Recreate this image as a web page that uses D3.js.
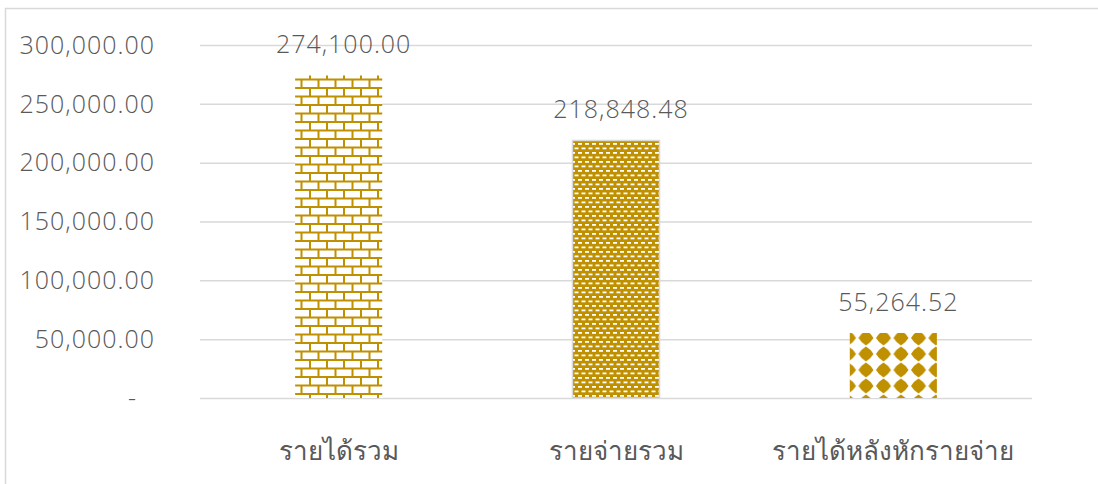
<!DOCTYPE html>
<html>
<head>
<meta charset="utf-8">
<style>
  body { margin: 0; background: #fff; }
  text { font-family: "Open Sans", "Noto Sans", sans-serif; font-weight: 300; fill: #595959; }
  .num { letter-spacing: 1px; }
</style>
<script src="https://cdn.jsdelivr.net/npm/d3@7"></script>
</head>
<body>
<svg id="chart" width="1098" height="484"></svg>
<script>
// data
var categories = ["รายได้รวม", "รายจ่ายรวม", "รายได้หลังหักรายจ่าย"];
var values = [274100.00, 218848.48, 55264.52];
var patterns = ["brick", "dash", "sphere"];
var yTicks = [0, 50000, 100000, 150000, 200000, 250000, 300000];

var svg = d3.select("#chart");
var gold = "#bf9000";

// chart frame
svg.append("rect")
  .attr("x", 5.5).attr("y", 8.5)
  .attr("width", 1110).attr("height", 500)
  .attr("fill", "none").attr("stroke", "#d9d9d9").attr("stroke-width", 1.5);

var defs = svg.append("defs");

// brick pattern
var pb = defs.append("pattern").attr("id", "brick")
  .attr("patternUnits", "userSpaceOnUse")
  .attr("width", 17).attr("height", 17)
  .attr("x", 296).attr("y", 76);
pb.append("rect").attr("width", 17).attr("height", 17).attr("fill", "#fff");
pb.append("path")
  .attr("d", "M0,1 H17 M0,9.5 H17 M1,1 V9.5 M9.5,9.5 V17")
  .attr("stroke", gold).attr("stroke-width", 2).attr("fill", "none");

// small dashes on gold
var pd = defs.append("pattern").attr("id", "dash")
  .attr("patternUnits", "userSpaceOnUse")
  .attr("width", 7).attr("height", 9)
  .attr("x", 573).attr("y", 141);
pd.append("rect").attr("width", 7).attr("height", 9).attr("fill", gold);
pd.append("rect").attr("x", 1).attr("y", 2).attr("width", 4).attr("height", 1.8).attr("fill", "#fff");
pd.append("rect").attr("x", 4.5).attr("y", 6.5).attr("width", 4).attr("height", 1.8).attr("fill", "#fff");
pd.append("rect").attr("x", -2.5).attr("y", 6.5).attr("width", 4).attr("height", 1.8).attr("fill", "#fff");

// rounded diamonds
var ps = defs.append("pattern").attr("id", "sphere")
  .attr("patternUnits", "userSpaceOnUse")
  .attr("width", 17.5).attr("height", 16)
  .attr("x", 850).attr("y", 333);
ps.append("rect").attr("width", 17.5).attr("height", 16).attr("fill", "#fff");
ps.append("path")
  .attr("d", "M8.5,0.5 Q13,3 16,8 Q13,13 8.5,15.5 Q4,13 1,8 Q4,3 8.5,0.5 Z")
  .attr("fill", gold);

var margin = { left: 200, right: 66, top: 45, bottom: 86 };
var width = 1098 - margin.left - margin.right;
var height = 484 - margin.top - margin.bottom;

var g = svg.append("g").attr("transform", "translate(" + margin.left + "," + margin.top + ")");

var x = d3.scaleBand().domain(categories).range([0, width]).paddingInner(0.686).paddingOuter(0.343);
var y = d3.scaleLinear().domain([0, 300000]).range([height, 0]);

// gridlines
g.selectAll(".grid").data(yTicks).join("line")
  .attr("x1", 0).attr("x2", width)
  .attr("y1", d => y(d) + 0.5).attr("y2", d => y(d) + 0.5)
  .attr("stroke", "#d9d9d9").attr("stroke-width", 1.5);

// y tick labels
var fmt = d3.format(",.2f");
g.selectAll(".ytick").data(yTicks).join("text")
  .attr("class", "num")
  .attr("x", d => d === 0 ? -63 : -45)
  .attr("y", d => y(d))
  .attr("dy", "0.35em")
  .attr("text-anchor", "end")
  .attr("font-size", 25)
  .text(d => d === 0 ? "-" : fmt(d));

// bars
g.selectAll(".bar").data(values).join("rect")
  .attr("x", (d, i) => x(categories[i]))
  .attr("y", d => y(d))
  .attr("width", x.bandwidth())
  .attr("height", d => height - y(d))
  .attr("fill", (d, i) => "url(#" + patterns[i] + ")")
  .attr("stroke", (d, i) => i === 1 ? "#d9d9d9" : "none")
  .attr("stroke-width", 1.5);

// value labels
g.selectAll(".val").data(values).join("text")
  .attr("class", "num")
  .attr("x", (d, i) => x(categories[i]) + x.bandwidth() / 2 + 5)
  .attr("y", d => y(d) - 22)
  .attr("text-anchor", "middle")
  .attr("font-size", 25)
  .attr("fill", "#404040")
  .text(d => fmt(d));

// category labels
g.selectAll(".cat").data(categories).join("text")
  .attr("x", d => x(d) + x.bandwidth() / 2)
  .attr("y", height + 62)
  .attr("text-anchor", "middle")
  .attr("font-size", 26)
  .text(d => d);
</script>
</body>
</html>
